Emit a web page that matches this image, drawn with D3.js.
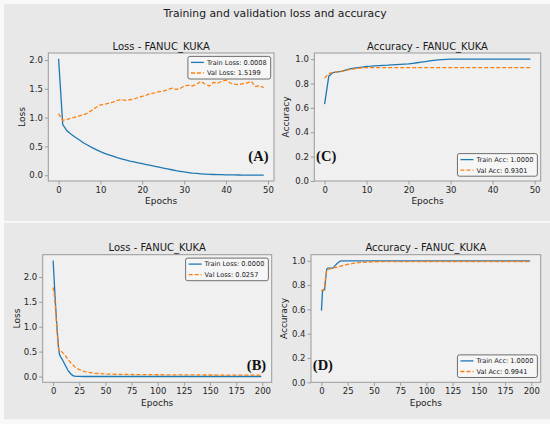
<!DOCTYPE html>
<html>
<head>
<meta charset="utf-8">
<script src="https://cdn.jsdelivr.net/npm/d3@7"></script>
<style>
  body { margin: 0; background: #f9f9f9; }
  svg { display: block; font-family: "DejaVu Sans", sans-serif; }
</style>
</head>
<body>
<svg id="chart" width="550" height="424"></svg>
<script>
// ---- data ----
const epochsTop = [0,1,2,3,4,5,6,7,8,9,10,11,12,13,14,15,16,17,18,19,20,21,22,23,24,
  25,26,27,28,29,30,31,32,33,34,35,36,37,38,39,40,41,42,43,44,45,46,47,48,49];

const trainLossA = [2.02,0.88,0.77,0.71,0.66,0.61,0.56,0.52,0.48,0.445,
  0.41,0.38,0.355,0.33,0.305,0.285,0.265,0.245,0.23,0.215,
  0.2,0.185,0.17,0.155,0.14,0.125,0.11,0.095,0.08,0.068,
  0.057,0.047,0.038,0.031,0.025,0.02,0.016,0.013,0.011,0.009,
  0.007,0.006,0.005,0.004,0.003,0.0025,0.002,0.0015,0.001,0.0008];
const valLossA = [1.07,0.95,0.97,0.99,1.01,1.03,1.05,1.08,1.13,1.18,
  1.22,1.23,1.25,1.27,1.3,1.31,1.3,1.31,1.32,1.35,
  1.37,1.39,1.42,1.43,1.45,1.46,1.48,1.51,1.49,1.5,
  1.55,1.56,1.55,1.58,1.63,1.58,1.55,1.61,1.6,1.63,
  1.65,1.6,1.58,1.57,1.59,1.6,1.63,1.54,1.55,1.52];

const trainAccC = [0.63,0.86,0.89,0.895,0.9,0.91,0.92,0.925,0.93,0.935,
  0.94,0.942,0.945,0.947,0.949,0.95,0.952,0.954,0.956,0.958,
  0.96,0.965,0.97,0.975,0.98,0.985,0.99,0.993,0.996,0.998,
  0.999,1,1,1,1,1,1,1,1,1,
  1,1,1,1,1,1,1,1,1,1];
const valAccC = [0.845,0.88,0.89,0.895,0.9,0.905,0.915,0.92,0.925,0.928,
  0.93,0.93,0.93,0.93,0.93,0.93,0.93,0.93,0.93,0.93,
  0.93,0.93,0.93,0.93,0.93,0.93,0.93,0.93,0.93,0.93,
  0.93,0.93,0.93,0.93,0.93,0.93,0.93,0.93,0.93,0.93,
  0.93,0.93,0.93,0.93,0.93,0.93,0.93,0.93,0.93,0.9301];

const epochsB = [0,1,2,3,4,5,6,7,8,9,10,11,12,13,14,15,16,17,18,19,20,21,22,23,24,25,
  30,35,40,50,60,75,100,125,150,175,199];
const trainLossB = [2.33,1.95,1.55,1.2,0.9,0.62,0.45,0.4,0.37,0.33,
  0.29,0.25,0.21,0.17,0.13,0.1,0.075,0.05,0.032,0.018,
  0.01,0.006,0.004,0.003,0.002,0.001,
  0.0005,0.0003,0.0002,0.0001,0,0,0,0,0,0,0];
const valLossB = [1.79,1.66,1.45,1.15,0.85,0.58,0.5,0.5,0.5,0.48,
  0.46,0.44,0.41,0.38,0.35,0.32,0.3,0.27,0.25,0.23,
  0.21,0.19,0.175,0.16,0.15,0.14,
  0.1,0.08,0.065,0.05,0.045,0.04,0.035,0.032,0.03,0.028,0.0257];

const epochsD = [0,1,2,3,4,5,6,7,8,9,10,11,12,13,14,15,16,17,18,19,20,
  25,30,35,40,50,75,100,125,150,175,199];
const trainAccD = [0.59,0.75,0.76,0.76,0.85,0.93,0.94,0.94,0.94,0.94,
  0.94,0.942,0.95,0.96,0.97,0.978,0.986,0.992,0.997,1,1,
  1,1,1,1,1,1,1,1,1,1,1];
const valAccD = [0.75,0.76,0.76,0.78,0.87,0.92,0.93,0.932,0.934,0.936,
  0.938,0.94,0.942,0.944,0.946,0.948,0.95,0.952,0.955,0.957,0.96,
  0.97,0.978,0.984,0.988,0.992,0.993,0.994,0.994,0.994,0.994,0.9941];

const ticksTopX = [0, 10, 20, 30, 40, 50];
const ticksBottomX = [0, 25, 50, 75, 100, 125, 150, 175, 200];
const ticksLossY = [0, 0.5, 1, 1.5, 2];
const ticksAccY = [0, 0.2, 0.4, 0.6, 0.8, 1];

const trainColor = "#1f77b4", valColor = "#ff7f0e";

const svg = d3.select("#chart");

// figure backgrounds (two stacked images)
svg.append("rect").attr("x", 4).attr("y", 4).attr("width", 546).attr("height", 217).attr("fill", "#e8e8e8");
svg.append("rect").attr("x", 4).attr("y", 222.7).attr("width", 546).attr("height", 196.6).attr("fill", "#e8e8e8");

svg.append("text")
  .attr("x", 275).attr("y", 16.7)
  .attr("text-anchor", "middle")
  .attr("font-size", "10.8px")
  .attr("fill", "#1a1a1a")
  .text("Training and validation loss and accuracy");

// matplotlib-like autoscale with 5% margins
function padded(lo, hi) {
  const m = (hi - lo) * 0.05;
  return [lo - m, hi + m];
}

function drawPanel(p) {
  const xDom = padded(d3.min(p.epochs), d3.max(p.epochs));
  const yDom = p.yDomain || padded(d3.min(p.train.concat(p.val)), d3.max(p.train.concat(p.val)));

  const x = d3.scaleLinear().domain(xDom).range([p.left, p.right]);
  const y = d3.scaleLinear().domain(yDom).range([p.bottom, p.top]);

  const g = svg.append("g");

  g.append("rect")
    .attr("x", p.left).attr("y", p.top)
    .attr("width", p.right - p.left).attr("height", p.bottom - p.top)
    .attr("fill", "#f0f0f0");

  const line = d3.line()
    .x(d => x(d[0]))
    .y(d => y(d[1]));

  const trainPts = p.epochs.map((e, i) => [e, p.train[i]]);
  const valPts = p.epochs.map((e, i) => [e, p.val[i]]);

  g.append("path")
    .attr("d", line(trainPts))
    .attr("fill", "none")
    .attr("stroke", trainColor)
    .attr("stroke-width", 1.3);

  g.append("path")
    .attr("d", line(valPts))
    .attr("fill", "none")
    .attr("stroke", valColor)
    .attr("stroke-width", 1.3)
    .attr("stroke-dasharray", "4,2");

  // axes
  const xAxis = g.append("g")
    .attr("transform", `translate(0,${p.bottom})`)
    .call(d3.axisBottom(x).tickValues(p.xTicks).tickSize(3.5).tickPadding(2).tickFormat(d3.format("d")));
  const yAxis = g.append("g")
    .attr("transform", `translate(${p.left},0)`)
    .call(d3.axisLeft(y).tickValues(p.yTicks).tickSize(3.5).tickPadding(2).tickFormat(d3.format(".1f")));

  [xAxis, yAxis].forEach(a => {
    a.select(".domain").remove();
    a.selectAll(".tick line").attr("stroke", "#8a8a8a").attr("stroke-width", 0.8);
    a.selectAll(".tick text")
      .attr("font-family", "DejaVu Sans")
      .attr("font-size", "8.5px")
      .attr("fill", "#262626");
  });

  // frame
  g.append("rect")
    .attr("x", p.left).attr("y", p.top)
    .attr("width", p.right - p.left).attr("height", p.bottom - p.top)
    .attr("fill", "none")
    .attr("stroke", "#9a9a9a")
    .attr("stroke-width", 1);

  // title and labels
  g.append("text")
    .attr("x", (p.left + p.right) / 2).attr("y", p.top - 3.5)
    .attr("text-anchor", "middle")
    .attr("font-size", "10px")
    .attr("fill", "#1a1a1a")
    .text(p.title);

  g.append("text")
    .attr("x", (p.left + p.right) / 2).attr("y", p.xLabelY)
    .attr("text-anchor", "middle")
    .attr("font-size", "9px")
    .attr("fill", "#1a1a1a")
    .text("Epochs");

  g.append("text")
    .attr("transform", `translate(${p.yLabelX},${(p.top + p.bottom) / 2}) rotate(-90)`)
    .attr("dy", "0.35em")
    .attr("text-anchor", "middle")
    .attr("font-size", "9px")
    .attr("fill", "#1a1a1a")
    .text(p.yLabel);

  // legend
  const legendItems = [
    { label: p.trainLabel, color: trainColor, dash: null },
    { label: p.valLabel, color: valColor, dash: "4,2" }
  ];
  const lg = g.append("g");
  const box = lg.append("rect")
    .attr("rx", 2)
    .attr("fill", "#f7f7f7")
    .attr("fill-opacity", 0.85)
    .attr("stroke", "#4d4d4d")
    .attr("stroke-width", 0.8);

  const texts = lg.selectAll("text.lbl")
    .data(legendItems)
    .enter().append("text")
    .attr("class", "lbl")
    .attr("x", 19)
    .attr("y", (d, i) => 6 + i * 10.6)
    .attr("dy", "0.35em")
    .attr("font-size", "6.6px")
    .attr("fill", "#1a1a1a")
    .text(d => d.label);

  lg.selectAll("line")
    .data(legendItems)
    .enter().append("line")
    .attr("x1", 3).attr("x2", 16)
    .attr("y1", (d, i) => 6 + i * 10.6)
    .attr("y2", (d, i) => 6 + i * 10.6)
    .attr("stroke", d => d.color)
    .attr("stroke-width", 1.3)
    .attr("stroke-dasharray", d => d.dash);

  const tw = d3.max(texts.nodes(), n => n.getComputedTextLength());
  const bw = 19 + tw + 4, bh = 22.6;
  box.attr("width", bw).attr("height", bh);
  const lx = p.right - 3.3 - bw;
  const ly = p.legendPos === "top" ? p.top + 3.4 : p.bottom - 4.8 - bh;
  lg.attr("transform", `translate(${lx},${ly})`);

  // panel letter
  g.append("text")
    .attr("x", p.letterAnchor === "end" ? p.right - 5.5 : p.left + 1.8)
    .attr("y", p.letterY)
    .attr("text-anchor", p.letterAnchor)
    .attr("font-family", "Liberation Serif, serif")
    .attr("font-weight", "bold")
    .attr("font-size", "14.5px")
    .attr("fill", "#111")
    .text(p.letter);
}

drawPanel({
  epochs: epochsTop, train: trainLossA, val: valLossA,
  left: 48.3, right: 274, top: 53, bottom: 181,
  xTicks: ticksTopX, yTicks: ticksLossY,
  title: "Loss - FANUC_KUKA", yLabel: "Loss", yLabelX: 21.5, xLabelY: 204.3,
  trainLabel: "Train Loss: 0.0008", valLabel: "Val Loss: 1.5199", legendPos: "top",
  letter: "(A)", letterAnchor: "end", letterY: 160.5
});

drawPanel({
  epochs: epochsTop, train: trainAccC, val: valAccC, yDomain: [0, 1.05],
  left: 314.3, right: 540.7, top: 53, bottom: 181,
  xTicks: ticksTopX, yTicks: ticksAccY,
  title: "Accuracy - FANUC_KUKA", yLabel: "Accuracy", yLabelX: 286, xLabelY: 204.3,
  trainLabel: "Train Acc: 1.0000", valLabel: "Val Acc: 0.9301", legendPos: "bottom",
  letter: "(C)", letterAnchor: "start", letterY: 160.5
});

drawPanel({
  epochs: epochsB, train: trainLossB, val: valLossB,
  left: 42.7, right: 271.7, top: 254.7, bottom: 382.3,
  xTicks: ticksBottomX, yTicks: ticksLossY,
  title: "Loss - FANUC_KUKA", yLabel: "Loss", yLabelX: 16.5, xLabelY: 406,
  trainLabel: "Train Loss: 0.0000", valLabel: "Val Loss: 0.0257", legendPos: "top",
  letter: "(B)", letterAnchor: "end", letterY: 369.5
});

drawPanel({
  epochs: epochsD, train: trainAccD, val: valAccD, yDomain: [0, 1.05],
  left: 311, right: 540.7, top: 254.7, bottom: 382.3,
  xTicks: ticksBottomX, yTicks: ticksAccY,
  title: "Accuracy - FANUC_KUKA", yLabel: "Accuracy", yLabelX: 284.3, xLabelY: 406,
  trainLabel: "Train Acc: 1.0000", valLabel: "Val Acc: 0.9941", legendPos: "bottom",
  letter: "(D)", letterAnchor: "start", letterY: 370
});
</script>
</body>
</html>
